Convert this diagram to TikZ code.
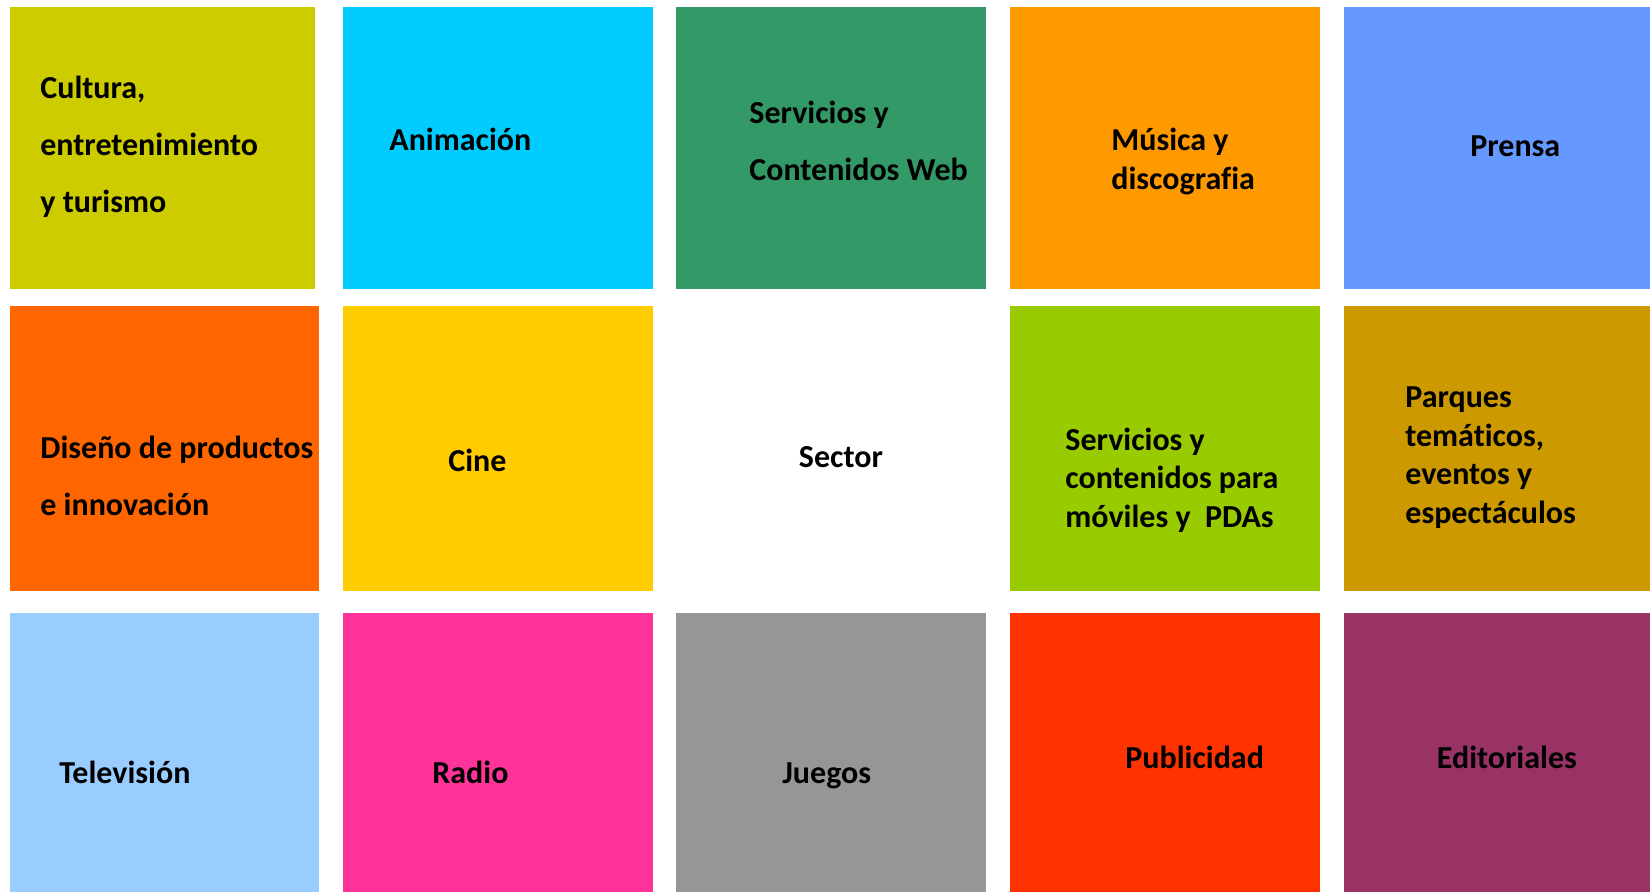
\documentclass[tikz,border=0pt]{standalone}
\usepackage{fontspec}
\setmainfont{Carlito}[Ligatures=NoCommon]

\definecolor{olivo}{HTML}{CCCC00}
\definecolor{celeste}{HTML}{00CCFF}
\definecolor{verdeweb}{HTML}{339966}
\definecolor{naranja}{HTML}{FF9900}
\definecolor{azul}{HTML}{6699FF}
\definecolor{naranjaos}{HTML}{FF6600}
\definecolor{amarillo}{HTML}{FFCC00}
\definecolor{lima}{HTML}{99CC00}
\definecolor{ocre}{HTML}{CC9900}
\definecolor{cielo}{HTML}{99CCFF}
\definecolor{rosa}{HTML}{FF3399}
\definecolor{gris}{HTML}{969696}
\definecolor{rojo}{HTML}{FF3300}
\definecolor{granate}{HTML}{993366}

\begin{document}
\begin{tikzpicture}[x=0.5pt,y=-0.5pt,
	etiq/.style={anchor=base west,inner sep=0pt,align=left,
		font=\fontsize{16pt}{28.5pt}\selectfont\bfseries},
	etiqapretada/.style={etiq,font=\fontsize{16pt}{19.25pt}\selectfont\bfseries}]
	\useasboundingbox (0,0) rectangle (1650,892);
	
	% primera fila
	\fill[olivo] (10,7) rectangle (315,289);
	\fill[celeste] (343,7) rectangle (653,289);
	\fill[verdeweb] (676,7) rectangle (986,289);
	\fill[naranja] (1010,7) rectangle (1320,289);
	\fill[azul] (1344,7) rectangle (1650,289);
	
	% segunda fila
	\fill[naranjaos] (10,306) rectangle (319,591.5);
	\fill[amarillo] (343,306) rectangle (653,591.5);
	\fill[lima] (1010,306) rectangle (1320,591.5);
	\fill[ocre] (1344,306) rectangle (1650,591.5);
	
	% tercera fila
	\fill[cielo] (10,613) rectangle (319,892);
	\fill[rosa] (343,613) rectangle (653,892);
	\fill[gris] (676,613) rectangle (986,892);
	\fill[rojo] (1010,613) rectangle (1320,892);
	\fill[granate] (1344,613) rectangle (1650,892);
	
	% base = ultima linea del texto
	\node[etiq] (cultura) at (40,212.5) {Cultura,\\entretenimiento\\y turismo};
	\node[etiq] (animacion) at (389,150.5) {Animación};
	\node[etiq] (web) at (749,181) {Servicios y\\Contenidos Web};
	\node[etiqapretada] (musica) at (1111,189.5) {Música y\\discografia};
	\node[etiq] (prensa) at (1470,157) {Prensa};
	
	\node[etiq] (diseno) at (40,516) {Diseño de productos\\e innovación};
	\node[etiq] (cine) at (448,471.5) {Cine};
	\node[etiq] (sector) at (798.5,468) {Sector};
	\node[etiqapretada] (moviles) at (1065,527.5) {Servicios y\\contenidos para\\móviles y\ \ PDAs};
	\node[etiqapretada] (parques) at (1405,523.3) {Parques\\temáticos,\\eventos y\\espectáculos};
	
	\node[etiq] (tele) at (59,783.3) {Televisión};
	\node[etiq] (radio) at (432,783.3) {Radio};
	\node[etiq] (juegos) at (782,783.3) {Juegos};
	\node[etiq] (publi) at (1125,768.3) {Publicidad};
	\node[etiq] (edit) at (1436.5,768.3) {Editoriales};
	
\end{tikzpicture}
\end{document}
